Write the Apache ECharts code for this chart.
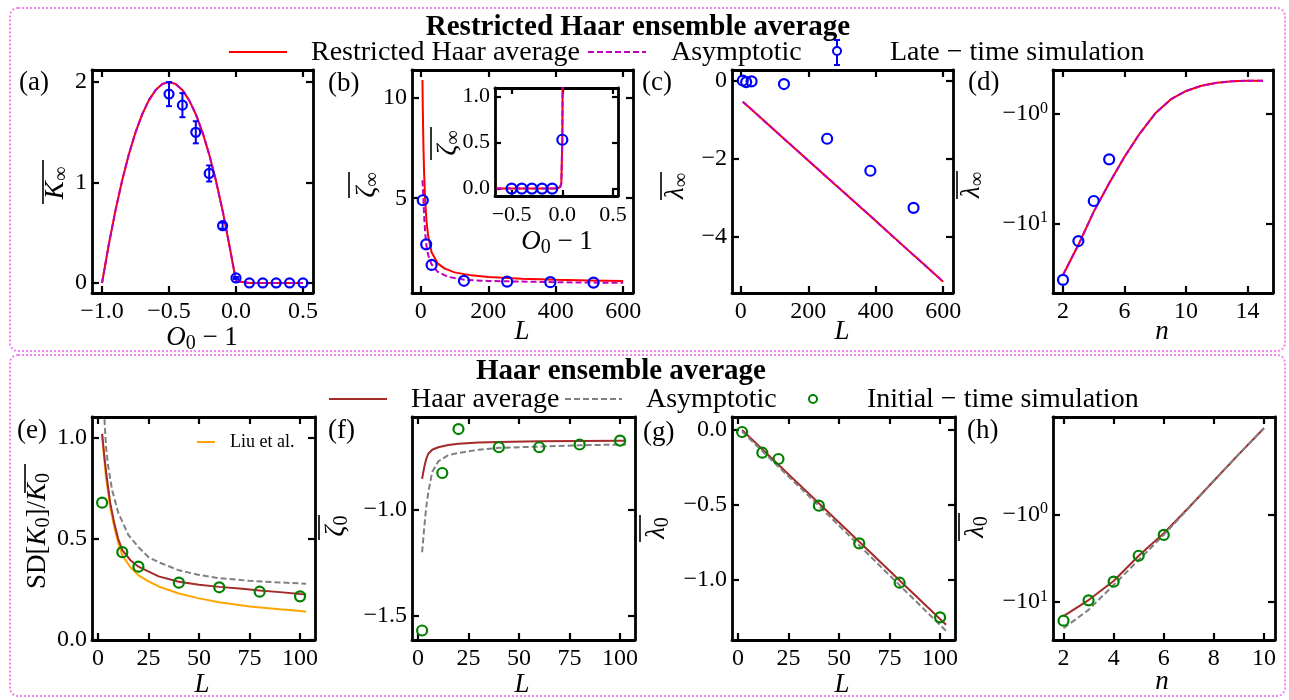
<!DOCTYPE html>
<html><head><meta charset="utf-8">
<script src="https://cdn.jsdelivr.net/npm/echarts@6/dist/echarts.min.js"></script>
<style>html,body{margin:0;padding:0;background:#fff}#c{width:1289px;height:700px}</style>
</head><body><div id="c"></div>
<script>
// ---------- tick values & labels ----------
const aXTicks = [-1.0, -0.5, 0.0, 0.5], aXLabels = ['−1.0', '−0.5', '0.0', '0.5'];
const aYTicks = [0, 1, 2], aYLabels = ['0', '1', '2'];
const bXTicks = [0, 200, 400, 600], bXLabels = ['0', '200', '400', '600'];
const bYTicks = [5, 10], bYLabels = ['5', '10'];
const insXTicks = [-0.5, 0.0, 0.5], insXLabels = ['−0.5', '0.0', '0.5'];
const insYTicks = [0.0, 0.5, 1.0], insYLabels = ['0.0', '0.5', '1.0'];
const cYTicks = [0, -2, -4], cYLabels = ['0', '−2', '−4'];
const dXTicks = [2, 6, 10, 14], dXLabels = ['2', '6', '10', '14'];
const symTicksRaw = [-1, -10], symLabels = ['−10{sup|0}', '−10{sup|1}'];
const eXTicks = [0, 25, 50, 75, 100], eXLabels = ['0', '25', '50', '75', '100'];
const eYTicks = [0.0, 0.5, 1.0], eYLabels = ['0.0', '0.5', '1.0'];
const fYTicks = [-1.5, -1.0], fYLabels = ['−1.5', '−1.0'];
const gYTicks = [0.0, -0.5, -1.0], gYLabels = ['0.0', '−0.5', '−1.0'];
const hXTicks = [2, 4, 6, 8, 10], hXLabels = ['2', '4', '6', '8', '10'];

// ---------- (a) ----------
const aCurveX = [-1.0,-0.95,-0.9,-0.85,-0.8,-0.75,-0.7,-0.65,-0.6,-0.55,-0.5,-0.45,-0.4,-0.35,-0.3,-0.25,-0.2,-0.15,-0.1,-0.05,0.0,0.1,0.2,0.3,0.4,0.5];
const aRestricted = [0,0.38,0.72,1.02,1.28,1.5,1.68,1.82,1.92,1.98,2.0,1.98,1.92,1.82,1.68,1.5,1.28,1.02,0.72,0.38,0.02,0,0,0,0,0];
const aAsymptotic = [0,0.38,0.72,1.02,1.28,1.5,1.68,1.82,1.92,1.98,2.0,1.98,1.92,1.82,1.68,1.5,1.28,1.02,0.72,0.38,0.02,0,0,0,0,0];
const aSimX = [-0.5,-0.4,-0.3,-0.2,-0.1,0.0,0.1,0.2,0.3,0.4,0.5];
const aSimY = [1.88,1.77,1.5,1.09,0.57,0.05,0,0,0,0,0];
const aSimErr = [0.12,0.12,0.11,0.08,0.03,0.01,0,0,0,0,0];

// ---------- (b) ----------
const bCurveL = [5,6,7,8,10,13,17,22,32,50,70,100,150,200,300,400,500,600];
const bRestricted = [10.9,9.5,8.4,7.5,6.2,4.9,3.85,3.1,2.3,1.75,1.5,1.3,1.15,1.07,0.98,0.93,0.9,0.87];
const bAsymL = [5,6,8,10,13,16,20,25,32,50,80,130,200,300,400,500,600];
const bAsymptotic = [5.9,5.6,4.9,4.1,3.3,2.75,2.3,2.0,1.7,1.33,1.08,0.93,0.87,0.84,0.81,0.79,0.78];
const bSimL = [6,16,32,128,256,384,512];
const bSimY = [4.9,2.7,1.67,0.88,0.84,0.81,0.79];
// inset of (b)
const insCurveX = [-0.65,-0.5,-0.3,-0.1,-0.04,-0.02,-0.01,0.0,0.004];
const insRestricted = [0,0,0,0,0.005,0.02,0.06,0.53,1.3];
const insAsymptotic = [0,0,0,0,0.005,0.02,0.06,0.53,1.3];
const insSimX = [-0.5,-0.4,-0.3,-0.2,-0.1,0.0];
const insSimY = [0,0,0,0,0,0.53];

// ---------- (c) ----------
const cCurveL = [6,16,32,64,128,256,384,512,600];
const cRestricted = [-0.54,-0.62,-0.74,-0.99,-1.49,-2.48,-3.47,-4.47,-5.15];
const cAsymptotic = [-0.54,-0.62,-0.74,-0.99,-1.49,-2.48,-3.47,-4.47,-5.15];
const cSimL = [6,16,32,128,256,384,512];
const cSimY = [0.0,-0.04,-0.02,-0.09,-1.49,-2.31,-3.26];

// ---------- (d) ----------
const dN = [2,3,4,5,6,7,8,9,10,11,12,13,14,15];
const dRestricted = [-29.5,-15.7,-7.83,-4.33,-2.48,-1.52,-1.0,-0.886,-0.817,-0.774,-0.75,-0.738,-0.733,-0.733];
const dAsymptotic = [-29.5,-15.7,-7.83,-4.33,-2.48,-1.52,-1.0,-0.886,-0.817,-0.774,-0.75,-0.738,-0.733,-0.733];
const dSimN = [2,3,4,5];
const dSimY = [-32.7,-14.5,-6.27,-2.62];

// ---------- (e) ----------
const eHaarL = [2,3,4,6,8,10,12,16,20,30,40,50,60,70,80,90,100,103];
const eHaar = [1.02,0.92,0.83,0.68,0.58,0.5,0.445,0.395,0.363,0.315,0.288,0.273,0.263,0.255,0.245,0.237,0.228,0.226];
const eAsymL = [2,3,4,5,7,10,15,20,25,30,40,50,60,75,90,100,103];
const eAsym = [1.45,1.12,0.95,0.86,0.74,0.63,0.52,0.46,0.41,0.385,0.345,0.322,0.306,0.293,0.285,0.28,0.278];
const eLiuL = [2,3,4,6,8,10,12,16,20,25,30,40,50,60,75,90,100,103];
const eLiu = [1.02,0.9,0.8,0.66,0.56,0.48,0.42,0.36,0.32,0.29,0.265,0.23,0.206,0.187,0.166,0.152,0.143,0.14];
const eSimL = [2,12,20,40,60,80,100];
const eSimY = [0.68,0.435,0.363,0.284,0.261,0.239,0.216];

// ---------- (f) ----------
const fHaarL = [2,3,4,5,7,10,15,20,30,40,60,80,100,103];
const fHaar = [-0.853,-0.8,-0.76,-0.735,-0.715,-0.703,-0.692,-0.686,-0.681,-0.678,-0.675,-0.673,-0.672,-0.672];
const fAsymL = [2,3,4,5,7,10,15,20,30,40,60,80,100,103];
const fAsym = [-1.2,-1.09,-0.99,-0.92,-0.82,-0.77,-0.74,-0.73,-0.715,-0.706,-0.7,-0.694,-0.69,-0.69];
const fSimL = [2,12,20,40,60,80,100];
const fSimY = [-1.57,-0.825,-0.617,-0.703,-0.703,-0.69,-0.672];

// ---------- (g) ----------
const gHaarL = [2,12,20,40,60,80,100,103];
const gHaar = [0.0,-0.128,-0.231,-0.488,-0.745,-1.003,-1.26,-1.298];
const gAsymL = [2,20,40,60,80,100,103];
const gAsym = [-0.01,-0.245,-0.505,-0.77,-1.035,-1.3,-1.34];
const gSimL = [2,12,20,40,60,80,100];
const gSimY = [-0.013,-0.151,-0.193,-0.504,-0.756,-1.018,-1.249];

// ---------- (h) ----------
const hN = [2,3,4,5,6,7,8,9,10];
const hHaar = [-14.6,-9.57,-5.8,-2.98,-1.65,-0.93,-0.655,-0.381,-0.114];
const hAsym = [-20.1,-12.4,-6.44,-3.33,-1.72,-0.935,-0.655,-0.38,-0.112];
const hSimN = [2,3,4,5,6];
const hSimY = [-16.5,-9.64,-5.9,-2.98,-1.72];

// ---------- styling ----------
const SERIF = "'Liberation Serif','Times New Roman',serif";
const RED = '#ff0000', MAG = '#bf00bf', BROWN = '#a52a2a', GRAY = '#808080',
      ORANGE = '#ffa500', GREEN = '#008000', BLUE = '#0000ff', BOX = '#f384f3';

// symmetric-log transform (linthresh 1, linscale 1, base 10)
function symT(v) { const a = Math.abs(v); return a >= 1 ? Math.log10(a) : (a - 1) / 0.9; }
const symTicks = symTicksRaw.map(symT);

const chart = echarts.init(document.getElementById('c'), null, {renderer: 'canvas', width: 1289, height: 700});

const grids = [], xAxes = [], yAxes = [], series = [];
const supRich = {sup: {fontFamily: SERIF, fontSize: 16, lineHeight: 14, verticalAlign: 'top', color: '#000'}};

function fmt(ticks, labels) {
  return function (v) {
    for (let i = 0; i < ticks.length; i++) if (Math.abs(ticks[i] - v) < 1e-6) return labels[i];
    return '';
  };
}
function panel(rect, xr, xt, xl, yr, yt, yl, opt) {
  opt = opt || {};
  const gi = grids.length;
  grids.push({left: rect[0], top: rect[1], width: rect[2], height: rect[3], containLabel: false,
              show: !!opt.bg, backgroundColor: '#fff', borderWidth: 0});
  const fs = opt.fs || 24, tl = opt.tl || 7;
  const line = {show: true, onZero: false, lineStyle: {color: '#000', width: 2.8}};
  const tick = v => ({show: true, inside: true, length: tl, lineStyle: {color: '#000', width: 2.2}, customValues: v});
  const lab = (v, l, m) => ({show: true, customValues: v, formatter: fmt(v, l), margin: m, color: '#000',
                             fontFamily: SERIF, fontSize: fs, lineHeight: 26, rich: supRich});
  const base = {type: 'value', gridIndex: gi, splitLine: {show: false}, axisLine: line};
  xAxes.push(Object.assign({}, base, {position: 'bottom', min: xr[0], max: xr[1], axisTick: tick(xt), axisLabel: lab(xt, xl, 6)}));
  xAxes.push(Object.assign({}, base, {position: 'top', min: xr[0], max: xr[1], axisTick: tick(xt), axisLabel: {show: false}}));
  yAxes.push(Object.assign({}, base, {position: 'left', inverse: !!opt.inv, min: yr[0], max: yr[1], axisTick: tick(yt), axisLabel: lab(yt, yl, 5)}));
  yAxes.push(Object.assign({}, base, {position: 'right', inverse: !!opt.inv, min: yr[0], max: yr[1], axisTick: tick(yt), axisLabel: {show: false}}));
  return gi;
}
function pairs(xs, ys, tf) { return xs.map((x, i) => [x, tf ? tf(ys[i]) : ys[i]]); }
function lineS(gi, name, data, color, dashed, z) {
  series.push({type: 'line', name: name, xAxisIndex: 2 * gi, yAxisIndex: 2 * gi, data: data, showSymbol: false,
               symbol: 'none', smooth: false, clip: true, z: z || 2,
               lineStyle: {color: color, width: 2, type: dashed ? [6, 3] : 'solid'}});
}
function dotS(gi, name, data, color, size) {
  series.push({type: 'scatter', name: name, xAxisIndex: 2 * gi, yAxisIndex: 2 * gi, data: data, symbol: 'circle',
               symbolSize: size || 9, z: 5,
               itemStyle: {color: 'rgba(255,255,255,0)', borderColor: color, borderWidth: 2.2, opacity: 1}});
}

// panels
const GA = panel([92, 70, 221, 223], [-1.075, 0.575], aXTicks, aXLabels, [-0.1, 2.12], aYTicks, aYLabels);
const GB = panel([412, 70, 221, 223], [-26, 629], bXTicks, bXLabels, [0.27, 11.4], bYTicks, bYLabels);
const GC = panel([732, 70, 221, 223], [-26, 629], bXTicks, bXLabels, [-5.44, 0.27], cYTicks, cYLabels);
const GD = panel([1053, 70, 220, 223], [1.35, 15.65], dXTicks, dXLabels, [-0.394, 1.634], symTicks, symLabels, {inv: true});
const GE = panel([92, 417, 223, 223], [-3, 107.4], eXTicks, eXLabels, [0, 1.104], eYTicks, eYLabels);
const GF = panel([412, 417, 223, 223], [-3, 107.4], eXTicks, eXLabels, [-1.615, -0.56], fYTicks, fYLabels);
const GG = panel([732, 417, 223, 223], [-3, 107.4], eXTicks, eXLabels, [-1.4, 0.087], gYTicks, gYLabels);
const GH = panel([1053, 417, 222, 223], [1.58, 10.44], hXTicks, hXLabels, [-1.113, 1.438], symTicks, symLabels, {inv: true});
const GI = panel([495, 88, 123, 108], [-0.664, 0.549], insXTicks, insXLabels, [-0.08, 1.091], insYTicks, insYLabels, {bg: true, fs: 22, tl: 6});

// (a)
lineS(GA, 'Restricted Haar average', pairs(aCurveX, aRestricted), RED, false, 2);
lineS(GA, 'Asymptotic', pairs(aCurveX, aAsymptotic), MAG, true, 3);
series.push({type: 'custom', name: 'Late − time simulation', xAxisIndex: 2 * GA, yAxisIndex: 2 * GA, z: 4,
  data: aSimX.map((x, i) => [x, aSimY[i], aSimErr[i]]),
  renderItem: function (p, api) {
    const x = api.value(0), y = api.value(1), e = api.value(2);
    if (!e) return {type: 'group', children: []};
    const t = api.coord([x, y + e]), b = api.coord([x, y - e]);
    const st = {stroke: BLUE, lineWidth: 2};
    return {type: 'group', children: [
      {type: 'line', shape: {x1: t[0], y1: t[1], x2: b[0], y2: b[1]}, style: st},
      {type: 'line', shape: {x1: t[0] - 3, y1: t[1], x2: t[0] + 3, y2: t[1]}, style: st},
      {type: 'line', shape: {x1: b[0] - 3, y1: b[1], x2: b[0] + 3, y2: b[1]}, style: st}]};
  }});
dotS(GA, 'Late − time simulation', pairs(aSimX, aSimY), BLUE, 9);
// (b)
lineS(GB, 'Restricted Haar average', pairs(bCurveL, bRestricted), RED, false, 2);
lineS(GB, 'Asymptotic', pairs(bAsymL, bAsymptotic), MAG, true, 3);
dotS(GB, 'Late − time simulation', pairs(bSimL, bSimY), BLUE, 10);
lineS(GI, 'Restricted Haar average', pairs(insCurveX, insRestricted), RED, false, 2);
lineS(GI, 'Asymptotic', pairs(insCurveX, insAsymptotic), MAG, true, 3);
dotS(GI, 'Late − time simulation', pairs(insSimX, insSimY), BLUE, 10);
// (c)
lineS(GC, 'Restricted Haar average', pairs(cCurveL, cRestricted), RED, false, 2);
lineS(GC, 'Asymptotic', pairs(cCurveL, cAsymptotic), MAG, true, 3);
dotS(GC, 'Late − time simulation', pairs(cSimL, cSimY), BLUE, 10);
// (d)
lineS(GD, 'Restricted Haar average', pairs(dN, dRestricted, symT), RED, false, 2);
lineS(GD, 'Asymptotic', pairs(dN, dAsymptotic, symT), MAG, true, 3);
dotS(GD, 'Late − time simulation', pairs(dSimN, dSimY, symT), BLUE, 10);
// (e)
lineS(GE, 'Liu et al.', pairs(eLiuL, eLiu), ORANGE, false, 2);
lineS(GE, 'Haar average', pairs(eHaarL, eHaar), BROWN, false, 2);
lineS(GE, 'Asymptotic', pairs(eAsymL, eAsym), GRAY, true, 3);
dotS(GE, 'Initial − time simulation', pairs(eSimL, eSimY), GREEN, 10);
// (f)
lineS(GF, 'Haar average', pairs(fHaarL, fHaar), BROWN, false, 2);
lineS(GF, 'Asymptotic', pairs(fAsymL, fAsym), GRAY, true, 3);
dotS(GF, 'Initial − time simulation', pairs(fSimL, fSimY), GREEN, 10);
// (g)
lineS(GG, 'Haar average', pairs(gHaarL, gHaar), BROWN, false, 2);
lineS(GG, 'Asymptotic', pairs(gAsymL, gAsym), GRAY, true, 3);
dotS(GG, 'Initial − time simulation', pairs(gSimL, gSimY), GREEN, 10);
// (h)
lineS(GH, 'Haar average', pairs(hN, hHaar, symT), BROWN, false, 2);
lineS(GH, 'Asymptotic', pairs(hN, hAsym, symT), GRAY, true, 3);
dotS(GH, 'Initial − time simulation', pairs(hSimN, hSimY, symT), GREEN, 10);

// ---------- text / decorations ----------
const mathRich = {
  i: {fontFamily: SERIF, fontStyle: 'italic', fontSize: 27, lineHeight: 32, verticalAlign: 'middle', color: '#000'},
  r: {fontFamily: SERIF, fontSize: 27, lineHeight: 32, verticalAlign: 'middle', color: '#000'},
  s: {fontFamily: SERIF, fontSize: 20, lineHeight: 20, verticalAlign: 'bottom', color: '#000'}
};
const G = [];
function txt(x, y, text, o) {
  o = o || {};
  G.push({type: 'text', x: x, y: y, rotation: o.rot || 0, z: 100,
    style: {text: text, fill: '#000', fontFamily: SERIF, fontSize: o.fs || 27, fontWeight: o.fw || 'normal',
            fontStyle: o.it ? 'italic' : 'normal', align: o.align || 'center', verticalAlign: 'middle',
            rich: o.rich || undefined}});
}
function seg(x1, y1, x2, y2, color, w, dash) {
  G.push({type: 'line', z: 100, shape: {x1: x1, y1: y1, x2: x2, y2: y2},
          style: {stroke: color, lineWidth: w || 2, lineDash: dash || null}});
}
function ring(x, y, r, color) {
  G.push({type: 'circle', z: 102, shape: {cx: x, cy: y, r: r}, style: {fill: '#fff', stroke: color, lineWidth: 2}});
}
// boxes
G.push({type: 'rect', z: 0, shape: {x: 10, y: 8, width: 1275, height: 343, r: 8},
        style: {fill: 'none', stroke: BOX, lineWidth: 2, lineDash: [2, 2]}});
G.push({type: 'rect', z: 0, shape: {x: 10, y: 355, width: 1275, height: 341, r: 8},
        style: {fill: 'none', stroke: BOX, lineWidth: 2, lineDash: [2, 2]}});
// titles
txt(638, 28, 'Restricted Haar ensemble average', {fs: 29, fw: 'bold'});
txt(621, 372, 'Haar ensemble average', {fs: 29, fw: 'bold'});
// top legend
seg(229, 52, 287, 52, RED, 2);
txt(311, 53, 'Restricted Haar average', {fs: 28, align: 'left'});
seg(588, 52, 646, 52, MAG, 2, [6, 3]);
txt(671, 53, 'Asymptotic', {fs: 28, align: 'left'});
seg(837, 40, 837, 65, BLUE, 2); seg(834, 40, 840, 40, BLUE, 2); seg(834, 65, 840, 65, BLUE, 2);
ring(837, 51, 4, BLUE);
txt(890, 53, 'Late − time simulation', {fs: 28, align: 'left'});
// bottom legend
seg(329, 399, 387, 399, BROWN, 2);
txt(411, 400, 'Haar average', {fs: 28, align: 'left'});
seg(565, 399, 622, 399, GRAY, 2, [6, 3]);
txt(646, 400, 'Asymptotic', {fs: 28, align: 'left'});
ring(813, 399, 4, GREEN);
txt(867, 400, 'Initial − time simulation', {fs: 28, align: 'left'});
// Liu et al. legend in (e)
seg(197, 442, 215, 442, ORANGE, 2);
txt(230, 442, 'Liu et al.', {fs: 18, align: 'left'});
// panel labels
[['(a)', 19, 83], ['(b)', 328, 84], ['(c)', 642, 83], ['(d)', 968, 83],
 ['(e)', 17, 431], ['(f)', 328, 431], ['(g)', 643, 433], ['(h)', 967, 431]].forEach(p => txt(p[1], p[2], p[0], {fs: 27, align: 'left'}));
// x-axis names
txt(202, 338, '{i|O}{s|0}{r| − 1}', {rich: mathRich});
txt(557, 242, '{i|O}{s|0}{r| − 1}', {rich: mathRich});
txt(522, 332, '{i|L}', {rich: mathRich});
txt(842, 332, '{i|L}', {rich: mathRich});
txt(1162, 332, '{i|n}', {rich: mathRich});
txt(202, 685, '{i|L}', {rich: mathRich});
txt(522, 685, '{i|L}', {rich: mathRich});
txt(842, 685, '{i|L}', {rich: mathRich});
txt(1162, 682, '{i|n}', {rich: mathRich});
// y-axis names (rotated) with overbars
const R90 = Math.PI / 2;
txt(56, 183, '{i|K}{s|∞}', {rich: mathRich, rot: R90}); seg(43, 160, 43, 204, '#000', 1.6);
txt(367, 185, '{i|ζ}{s|∞}', {rich: mathRich, rot: R90}); seg(349, 172, 349, 198, '#000', 1.6);
txt(676, 186, '{i|λ}{s|∞}', {rich: mathRich, rot: R90}); seg(661, 172, 661, 200, '#000', 1.6);
txt(972, 185, '{i|λ}{s|∞}', {rich: mathRich, rot: R90}); seg(957, 171, 957, 199, '#000', 1.6);
txt(448, 143, '{i|ζ}{s|∞}', {rich: mathRich, rot: R90}); seg(431, 127, 431, 160, '#000', 1.6);
txt(38, 531, '{r|SD[}{i|K}{s|0}{r|]/}{i|K}{s|0}', {rich: mathRich, rot: R90}); seg(25, 464, 25, 493, '#000', 1.6);
txt(336, 526, '{i|ζ}{s|0}', {rich: mathRich, rot: R90}); seg(319, 515, 319, 540, '#000', 1.6);
txt(657, 528, '{i|λ}{s|0}', {rich: mathRich, rot: R90}); seg(640, 515, 640, 542, '#000', 1.6);
txt(976, 527, '{i|λ}{s|0}', {rich: mathRich, rot: R90}); seg(959, 513, 959, 541, '#000', 1.6);

chart.setOption({
  animation: false,
  backgroundColor: '#fff',
  grid: grids,
  xAxis: xAxes,
  yAxis: yAxes,
  series: series,
  graphic: {elements: G}
});
</script>
</body></html>
